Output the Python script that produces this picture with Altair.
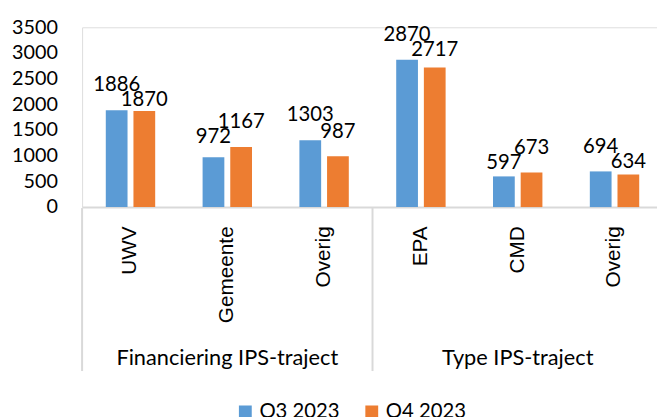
import altair as alt
import pandas as pd

groups = ["Financiering IPS-traject"] * 3 + ["Type IPS-traject"] * 3
categories = ["UWV", "Gemeente", "Overig", "EPA", "CMD", "Overig"]
q3_values = [1886, 972, 1303, 2870, 597, 694]
q4_values = [1870, 1167, 987, 2717, 673, 634]
series = ["Q3 2023", "Q4 2023"]
colors = ["#5B9BD5", "#ED7D31"]
y_ticks = [0, 500, 1000, 1500, 2000, 2500, 3000, 3500]

keys = [f"{g}|{c}" for g, c in zip(groups, categories)]
rows = []
for k, g, c, a, b in zip(keys, groups, categories, q3_values, q4_values):
    rows.append(dict(key=k, group=g, cat=c, series=series[0], value=a))
    rows.append(dict(key=k, group=g, cat=c, series=series[1], value=b))
df = pd.DataFrame(rows)

group_df = pd.DataFrame({"key": [keys[1], keys[4]], "group": [groups[0], groups[3]]})
sep_df = pd.DataFrame({"key": [keys[0], keys[3]]})

FONT = "Lato"
x_scale = alt.Scale(domain=keys, range=[0, 588], paddingInner=0, paddingOuter=0)
y_scale = alt.Scale(domain=[0, 3500], nice=False)
xo_scale = alt.Scale(domain=series, paddingInner=0.214, paddingOuter=0.857)

x_axis = alt.Axis(title=None, labelExpr="split(datum.label, '|')[1]",
                  labelAngle=270, labelFont="Liberation Sans", labelFontSize=21,
                  labelPadding=19, ticks=False, tickSize=0, labelOverlap=False,
                  domainColor="#d9d9d9", domainWidth=2, labelColor="black")
y_axis = alt.Axis(values=y_ticks, format="d", title=None, grid=False, domain=False,
                  ticks=False, labelFont=FONT, labelFontSize=20, labelPadding=25,
                  labelColor="black")

x_enc = alt.X("key:N", sort=keys, scale=x_scale, axis=x_axis)

base = alt.Chart(df)

bars = base.mark_bar().encode(
    x=x_enc,
    xOffset=alt.XOffset("series:N", scale=xo_scale),
    y=alt.Y("value:Q", scale=y_scale, axis=y_axis),
    color=alt.Color("series:N", scale=alt.Scale(domain=series, range=colors),
                    legend=alt.Legend(title=None, orient="none", legendX=155, legendY=379,
                                      direction="horizontal", symbolType="square",
                                      symbolSize=169, symbolStrokeWidth=0,
                                      labelFont=FONT, labelFontSize=20.5, labelColor="black",
                                      columnPadding=22, labelOffset=4, padding=0)),
)

labels = base.transform_joinaggregate(
    maxv="max(value)", groupby=["key"]
).transform_calculate(
    label="datum.value == datum.maxv ? datum.value : min(datum.value, datum.maxv - 290)"
).mark_text(font=FONT, fontSize=20.5, color="black", baseline="middle", dy=-25).encode(
    x=x_enc,
    xOffset=alt.XOffset("series:N", scale=xo_scale),
    y=alt.Y("label:Q", scale=y_scale, axis=y_axis),
    text=alt.Text("value:Q"),
)

seps = alt.Chart(sep_df).mark_rule(color="#d9d9d9", strokeWidth=2).encode(
    x=alt.X("key:N", sort=keys, scale=x_scale, axis=x_axis, bandPosition=0),
    y=alt.value(183),
    y2=alt.value(348),
)

group_labels = alt.Chart(group_df).mark_text(font=FONT, fontSize=22, color="black",
                                             baseline="middle").encode(
    x=x_enc,
    y=alt.value(335),
    text="group:N",
)

chart = alt.layer(bars, labels, seps, group_labels).properties(
    width=582, height=182,
    padding={"left": 75, "top": 17, "right": 0, "bottom": 210},
    autosize=alt.AutoSizeParams(type="none"),
).configure_view(stroke=None).configure_axisY(domain=False, ticks=False, grid=False
).configure(background="white")

chart.save("out.html", embed_options={"renderer": "svg", "actions": False})
